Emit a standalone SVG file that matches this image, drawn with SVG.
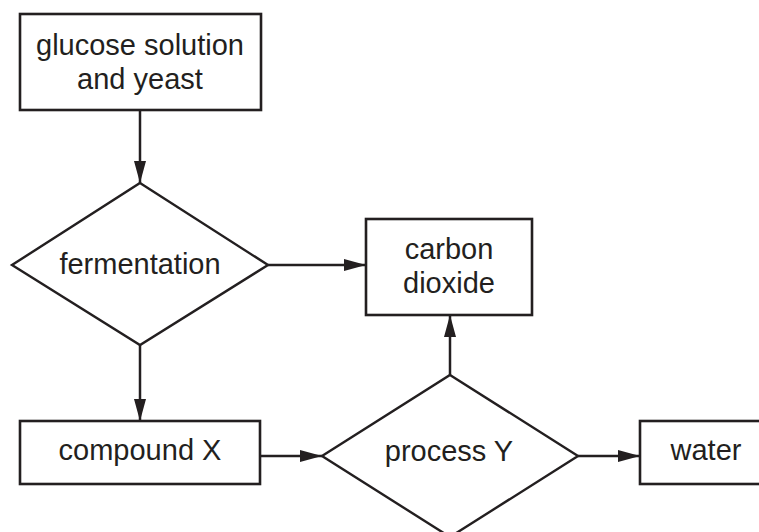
<svg xmlns="http://www.w3.org/2000/svg" width="759" height="532" viewBox="0 0 759 532">
<style>
.box{fill:#fff;stroke:#231f20;stroke-width:2.6}
.dia{fill:#fff;stroke:#231f20;stroke-width:2.4;stroke-linejoin:miter}
.con{fill:none;stroke:#231f20;stroke-width:2.5}
text{font-family:"Liberation Sans",Arial,Helvetica,sans-serif;font-size:29px;fill:#231f20;text-anchor:middle}
</style>
<defs>
<marker id="ah" markerUnits="userSpaceOnUse" markerWidth="24" markerHeight="14" refX="22" refY="6" orient="auto">
<path d="M0,0 L22,6 L0,12 z" fill="#231f20"/>
</marker>
</defs>
<rect width="759" height="532" fill="#fff"/>
<g id="connectors">
<line class="con" x1="140" y1="110" x2="140" y2="183" marker-end="url(#ah)"/>
<line class="con" x1="268" y1="265" x2="366" y2="265" marker-end="url(#ah)"/>
<line class="con" x1="140" y1="345" x2="140" y2="421" marker-end="url(#ah)"/>
<line class="con" x1="260" y1="456" x2="322" y2="456" marker-end="url(#ah)"/>
<line class="con" x1="450" y1="375" x2="450" y2="315" marker-end="url(#ah)"/>
<line class="con" x1="578" y1="456" x2="640" y2="456" marker-end="url(#ah)"/>
</g>
<g id="glucose">
<rect class="box" x="20" y="14" width="241" height="96"/>
<text x="140" y="55">glucose solution</text>
<text x="140" y="89">and yeast</text>
</g>
<g id="fermentation">
<polygon class="dia" points="140,183 268,265 140,345 12,265"/>
<text x="140" y="274">fermentation</text>
</g>
<g id="carbon-dioxide">
<rect class="box" x="366" y="219" width="166" height="96"/>
<text x="449" y="259">carbon</text>
<text x="449" y="293">dioxide</text>
</g>
<g id="compound-x">
<rect class="box" x="20" y="421" width="240" height="63"/>
<text x="140" y="460">compound X</text>
</g>
<g id="process-y">
<polygon class="dia" points="450,375 578,456 450,537 322,456"/>
<text x="449" y="461">process Y</text>
</g>
<g id="water">
<rect class="box" x="640" y="421" width="140" height="63"/>
<text x="706" y="460">water</text>
</g>
</svg>
